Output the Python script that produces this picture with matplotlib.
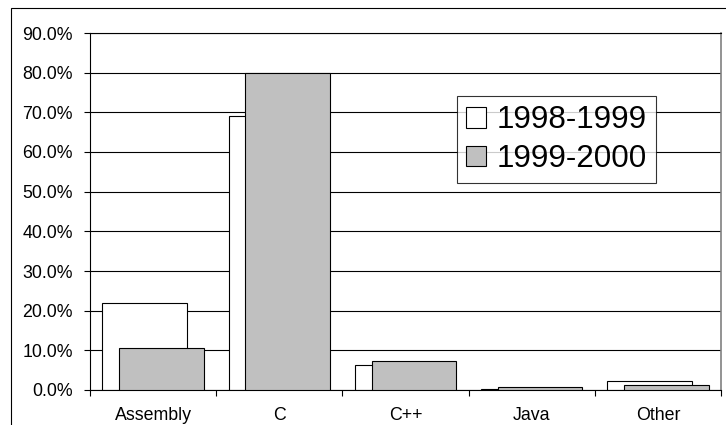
import numpy as np
import matplotlib.pyplot as plt
from matplotlib.patches import Rectangle

kategorie = ["Assembly", "C", "C++", "Java", "Other"]
lata_9899 = [21.9, 69.0, 6.2, 0.3, 2.3]
lata_9900 = [10.5, 80.0, 7.4, 0.8, 1.2]
serie = ["1998-1999", "1999-2000"]
yticki = [0, 10, 20, 30, 40, 50, 60, 70, 80, 90]

plt.rcParams['font.family'] = ['Liberation Sans', 'DejaVu Sans']

fig = plt.figure(figsize=(7.26, 4.25), dpi=100)
ax = fig.add_axes([90/726, 35/425, 631/726, 357/425])

# ramka calej figury (prawa i dolna krawedz poza obrazkiem)
fig.add_artist(Rectangle((10.5/726, -0.1), 1.2, (425-7.5)/425 + 0.1,
                         transform=fig.transFigure, fill=False,
                         edgecolor="black", linewidth=0.8))

x = np.arange(len(kategorie)) + 0.5
szer = 0.67
ax.bar(x - 0.067, lata_9899, szer, color="white", edgecolor="black",
       linewidth=0.8, label=serie[0], zorder=2)
ax.bar(x + 0.067, lata_9900, szer, color="#C0C0C0", edgecolor="black",
       linewidth=0.8, label=serie[1], zorder=3)

ax.set_xlim(0, len(kategorie))
ax.set_ylim(0, 90)
ax.set_yticks(yticki)
ax.set_yticklabels([f"{v:.1f}%" for v in yticki], fontsize=12.8)
ax.yaxis.grid(True, color="black", linewidth=0.8)
ax.set_axisbelow(True)

ax.set_xticks(np.arange(len(kategorie) + 1))
ax.set_xticklabels([])
ax.set_xticks(x, minor=True)
ax.set_xticklabels(kategorie, minor=True, fontsize=12.8)
ax.tick_params(axis="x", which="major", length=4, width=0.8, direction="out")
ax.tick_params(axis="x", which="minor", length=0, pad=12)
ax.tick_params(axis="y", length=4.3, width=0.8, pad=8)

for s in ["left", "bottom", "top"]:
    ax.spines[s].set_color("black")
    ax.spines[s].set_linewidth(0.8)
ax.spines["right"].set_color("#808080")
ax.spines["right"].set_linewidth(1.2)

leg = ax.legend(loc="upper left", bbox_to_anchor=(0.5816, 0.8235),
                fontsize=22.6, frameon=True, fancybox=False, shadow=False,
                borderaxespad=0, borderpad=0.3, handlelength=0.63,
                handleheight=0.63, handletextpad=0.33, labelspacing=0.27)
leg.get_frame().set_edgecolor("black")
leg.get_frame().set_linewidth(0.8)

fig.savefig("out.png", dpi=100)
